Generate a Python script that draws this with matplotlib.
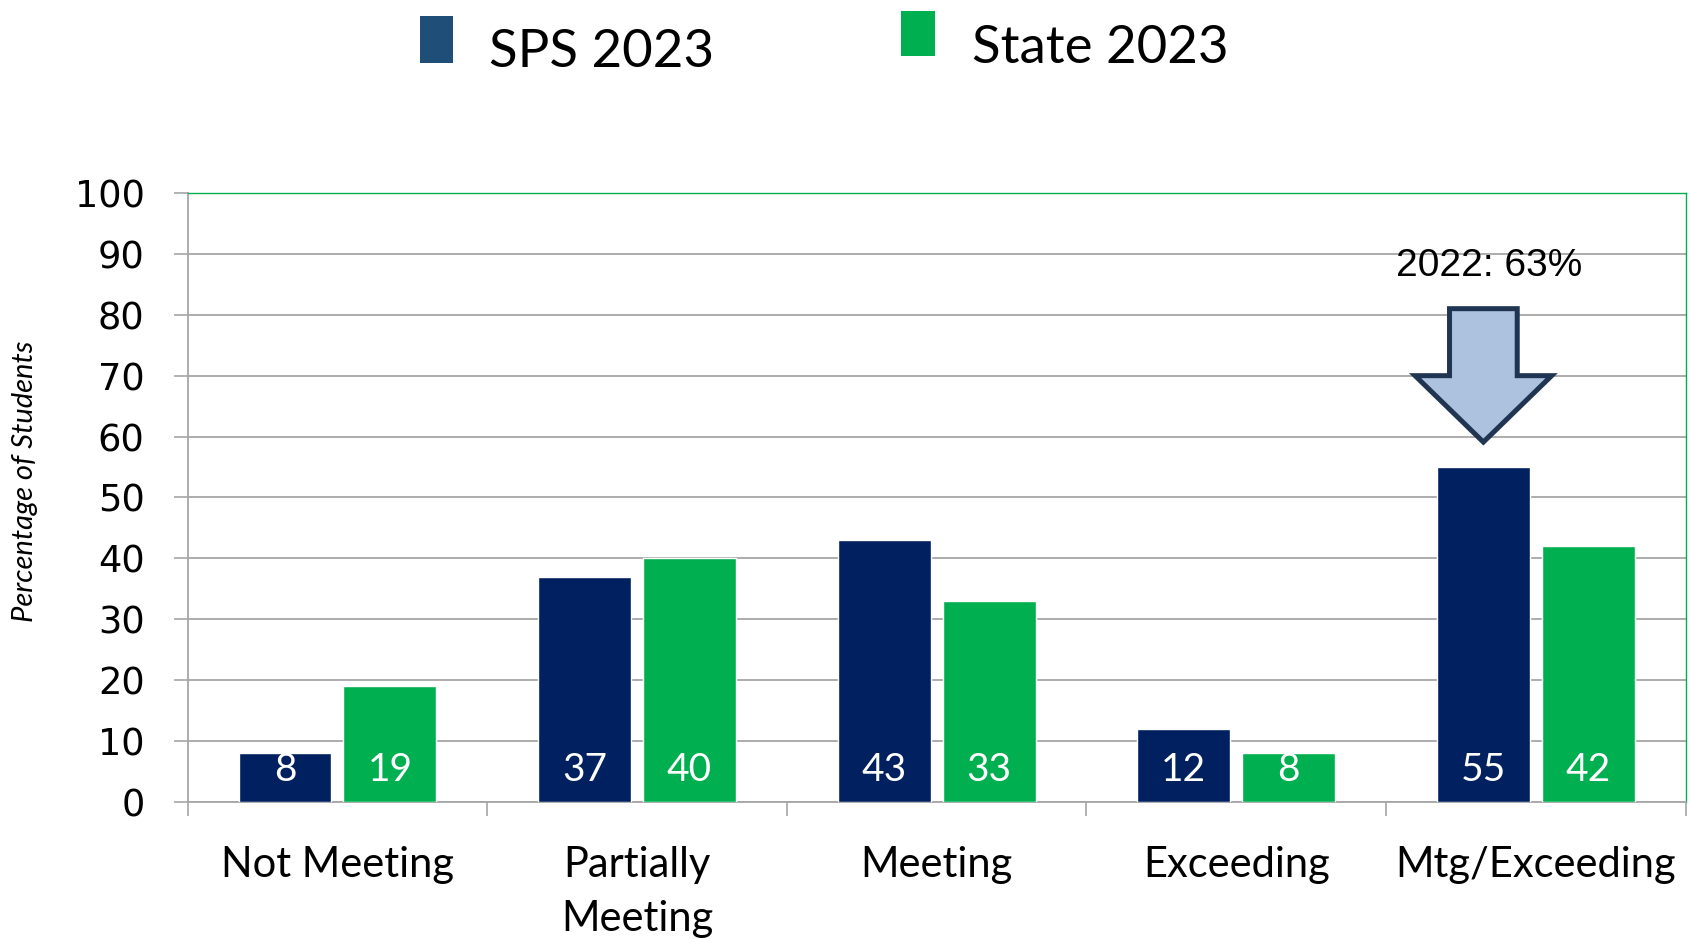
import matplotlib
matplotlib.use('Agg')
import matplotlib.pyplot as plt
import numpy as np
from matplotlib.patches import Rectangle, Polygon

# Data
categories = ['Not Meeting', 'Partially\nMeeting', 'Meeting', 'Exceeding', 'Mtg/Exceeding']
sps_2023 = [8, 37, 43, 12, 55]
state_2023 = [19, 40, 33, 8, 42]
sps_2022_mtg = 63

# Colors
navy = '#002060'
green = '#00B050'
legend_navy = '#1F4E79'
grid_grey = '#A6A6A6'

fig = plt.figure(figsize=(16.91, 9.39), dpi=100)
ax = fig.add_axes([0.111, 0.1459, 0.8858, 0.6486])

x = np.arange(len(categories))
width = 0.31
off = 0.175

ax.bar(x - off, sps_2023, width, color=navy, edgecolor='white', linewidth=1, zorder=3)
ax.bar(x + off, state_2023, width, color=green, edgecolor='white', linewidth=1, zorder=3)

# value labels, all placed near the bottom of the bars
label_font = dict(family=['Lato', 'DejaVu Sans'], fontsize=28, color='white',
                  ha='center', va='center', zorder=4)
for xi, v in zip(x - off, sps_2023):
    ax.text(xi, 5.3, str(v), **label_font)
for xi, v in zip(x + off, state_2023):
    ax.text(xi, 5.3, str(v), **label_font)

# axes
ax.set_xlim(-0.5, len(categories) - 0.5)
ax.set_ylim(0, 100)
ax.set_yticks(np.arange(0, 101, 10))
ax.yaxis.grid(True, color=grid_grey, linewidth=1.3, zorder=0)
ax.set_axisbelow(True)

ax.tick_params(axis='y', direction='out', length=10, width=1.2, color=grid_grey,
               pad=21, labelsize=26.5, labelcolor='black')

ax.set_xticks(x)
ax.set_xticklabels(categories, fontsize=30, family=['Lato', 'DejaVu Sans'],
                   linespacing=1.5)
ax.tick_params(axis='x', which='major', length=0, pad=32)
ax.set_xticks(np.arange(-0.5, len(categories), 1), minor=True)
ax.tick_params(axis='x', which='minor', direction='out', length=10, width=1.2, color=grid_grey)

for side in ['left', 'bottom']:
    ax.spines[side].set_color(grid_grey)
    ax.spines[side].set_linewidth(1.3)
for side in ['top', 'right']:
    ax.spines[side].set_color(green)
    ax.spines[side].set_linewidth(1.0)

ax.set_ylabel('Percentage of Students', fontsize=21, style='italic',
              family=['Lato', 'DejaVu Sans'])
ax.yaxis.set_label_coords(-0.1, 0.527)

# block arrow above the SPS Mtg/Exceeding bar
bx = x[-1] - off
tip = sps_2023[-1] + 4.1
neck = tip + 10.9
top = neck + 11
shaft_hw = 0.113
head_hw = 0.228
arrow = Polygon([(bx - shaft_hw, top), (bx + shaft_hw, top), (bx + shaft_hw, neck),
                 (bx + head_hw, neck), (bx, tip), (bx - head_hw, neck),
                 (bx - shaft_hw, neck)], closed=True, facecolor='#ADC2DF',
                edgecolor='#1F3552', linewidth=3.6, joinstyle='miter', zorder=5,
                clip_on=False)
ax.add_patch(arrow)
ax.text(bx - 0.29, 88.0, '2022: %d%%' % sps_2022_mtg, fontsize=28,
        family=['Liberation Sans', 'DejaVu Sans'], ha='left', va='center', zorder=6)

# legend drawn at figure level
fig.patches.append(Rectangle((0.2481, 0.9334), 0.0198, 0.0495, transform=fig.transFigure,
                             facecolor=legend_navy, edgecolor='none'))
fig.patches.append(Rectangle((0.5331, 0.9404), 0.0198, 0.0479, transform=fig.transFigure,
                             facecolor=green, edgecolor='none'))
leg_font = dict(fontsize=38, family=['Lato', 'DejaVu Sans'],
                ha='left', va='baseline')
fig.text(0.2889, 0.9286, 'SPS 2023', **leg_font)
fig.text(0.5746, 0.9334, 'State 2023', **leg_font)

fig.savefig('out.png', dpi=100, facecolor='white')
